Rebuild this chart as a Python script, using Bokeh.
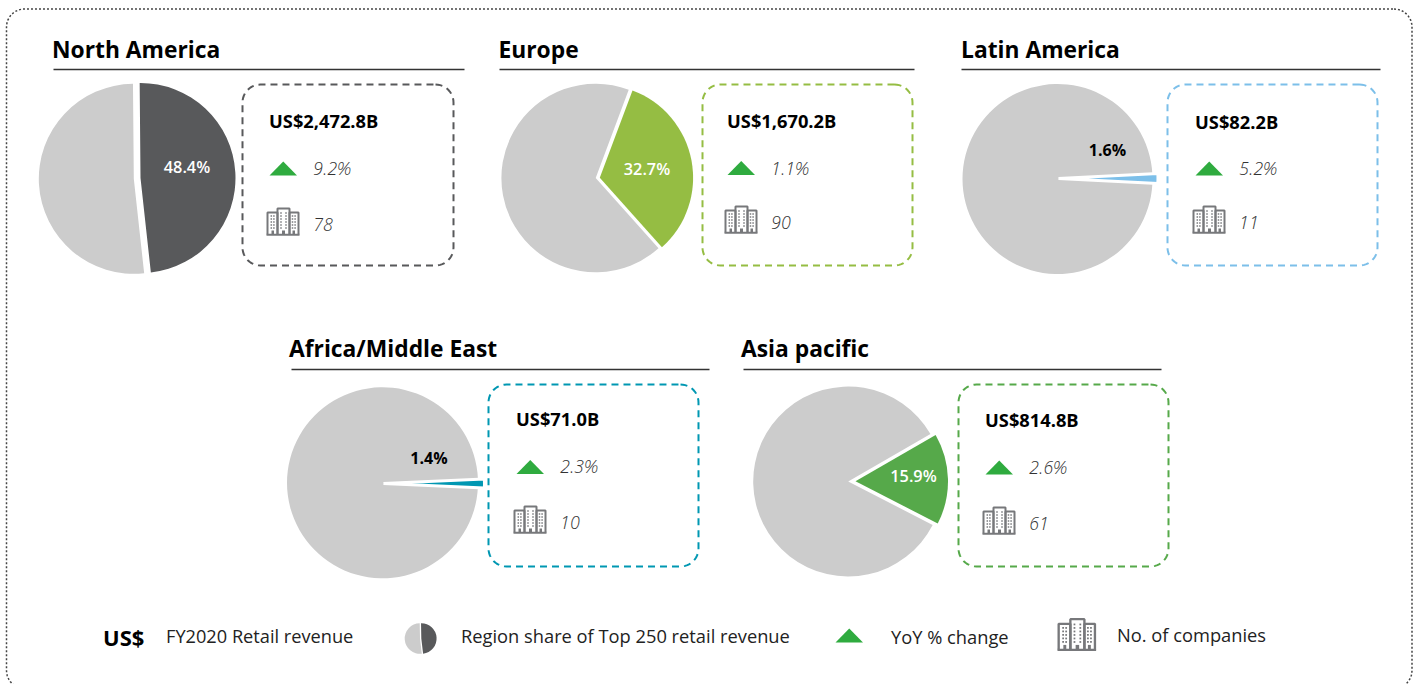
import math
from bokeh.plotting import figure
from bokeh.embed import file_html
from bokeh.resources import INLINE
from bokeh.core.properties import value

regions = ["North America", "Europe", "Latin America", "Africa/Middle East", "Asia pacific"]
revenue = ["US$2,472.8B", "US$1,670.2B", "US$82.2B", "US$71.0B", "US$814.8B"]
yoy = ["9.2%", "1.1%", "5.2%", "2.3%", "2.6%"]
companies = ["78", "90", "11", "10", "61"]
shares = [48.4, 32.7, 1.6, 1.4, 15.9]
colors = ["#58595b", "#95bd43", "#7cbfe9", "#0097b2", "#56a94a"]
legend_texts = ["FY2020 Retail revenue", "Region share of Top 250 retail revenue", "YoY % change", "No. of companies"]

GRAY = "#cccccc"
TRI = "#2fab3f"
ICON = "#77787b"
FONT = value("Open Sans")
LIGHT = value("Open Sans Light")
SEMI = value("Open Sans SemiBold")
W, H = 1417, 684


def Y(py):
    return H - py


p = figure(width=W, height=H, x_range=(0, W), y_range=(0, H), output_backend="svg",
           toolbar_location=None, min_border=0, margin=(0, 0, 0, 0),
           background_fill_color="white", border_fill_color="white")
p.axis.visible = False
p.grid.visible = False
p.outline_line_color = None


def rrect(x0, y0, x1, y1, r):
    xs, ys = [], []
    for cx, cy, a0 in [(x1 - r, y0 + r, -90), (x1 - r, y1 - r, 0), (x0 + r, y1 - r, 90), (x0 + r, y0 + r, 180)]:
        for i in range(13):
            a = math.radians(a0 + i * 7.5)
            xs.append(cx + r * math.cos(a))
            ys.append(Y(cy + r * math.sin(a)))
    xs.append(xs[0])
    ys.append(ys[0])
    return xs, ys


def txt(x, y, s, size, color="#000000", style="normal", align="left", font=FONT):
    p.text([x], [Y(y)], text=[s], text_font=font, text_font_size=f"{size}px", text_color=color,
           text_font_style=style, text_align=align, text_baseline="middle")


def pie(g, s, share, color):
    """g: gray circle (cx, cy, r); s: slice (cx, cy, r, clockwise start from 12 o'clock, white stroke)."""
    sweep = share / 100 * 360
    a0 = math.radians(90 - s[3])
    a1 = math.radians(90 - s[3] - sweep)
    p.wedge([g[0]], [Y(g[1])], radius=g[2], start_angle=a0, end_angle=a1 + 2 * math.pi,
            direction="anticlock", fill_color=GRAY, line_color=None)
    p.wedge([s[0]], [Y(s[1])], radius=s[2], start_angle=a1, end_angle=a0, direction="anticlock",
            fill_color=color, line_color="white" if s[4] else None, line_width=s[4] or 1)


def tri(x, y, w=27.5, h=14):
    p.patch([x, x + w / 2, x + w], [Y(y + h), Y(y), Y(y + h)], fill_color=TRI, line_color=None)


def icon(x, y, s=1.0):
    lw = 2 * s
    for (l, t, r) in [(1, 5, 11), (11, 1, 23), (23, 5, 32)]:
        p.line([x + l * s, x + l * s, x + r * s, x + r * s], [Y(y + 27 * s), Y(y + t * s), Y(y + t * s), Y(y + 27 * s)],
               line_color=ICON, line_width=lw)
    p.line([x, x + 33 * s], [Y(y + 27.3 * s), Y(y + 27.3 * s)], line_color=ICON, line_width=lw)
    wx, wy = [], []
    for cx_ in [4.8, 7.4, 14.5, 19.5, 26, 28.6]:
        for cy_ in [8.5, 11.5, 14.5, 17.5, 20.5]:
            wx.append(x + cx_ * s)
            wy.append(Y(y + cy_ * s))
    for cx_ in [14.5, 19.5]:
        wx.append(x + cx_ * s)
        wy.append(Y(y + 5.5 * s))
    p.rect(wx, wy, width=1.5 * s, height=1.5 * s, fill_color=ICON, line_color=None)
    for a, b in [(5, 7.5), (15.5, 18.5), (26, 28.5)]:
        p.quad(left=[x + a * s], right=[x + b * s], top=[Y(y + 23 * s)], bottom=[Y(y + 27 * s)], fill_color=ICON, line_color=None)


# outer dotted frame; its lower edge falls just below the picture
fx, fy = rrect(6, 8.5, 1411.5, 688, 18)
p.line(fx, fy, line_color="#444444", line_width=1.5, line_dash="2 2")

# (title x, title y, rule x0, rule x1, rule y)
heads = [(51.5, 48.5, 53, 464, 69), (498, 48.5, 499, 914, 69), (960.5, 48.5, 961, 1380, 69), (288.5, 347.7, 291, 709, 369), (740.5, 347.7, 743, 1161, 369)]
grays = [(133.3, 178.3, 95), (595.2, 177.5, 94.3), (1057, 178.5, 95), (382, 482.3, 95.5), (847.7, 481, 95)]
slices = [(140, 177.5, 95, -0.5, 0), (599.3, 177.3, 93.3, 20.5, 0), (1058, 178, 99.5, 87.1, 3),
          (383, 483, 101, 87.5, 3), (855, 480.7, 92.5, 60, 0)]
# box: x0, y0, x1, y1
boxes = [(242, 84, 453, 265), (702, 84, 912, 265), (1167, 84, 1377, 265), (488, 384, 698, 566), (958, 384, 1168, 566)]
# rows: rev x, rev y, tri x, tri y, yoy x, yoy y, icon x, icon y, n y
rows = [(268.5, 120, 269, 161, 312.5, 167.5, 266, 207, 223.5), (726.5, 119.5, 727, 160.5, 770.5, 167.5, 724, 205, 221.5),
        (1194.5, 120.5, 1195, 161, 1238.5, 167.5, 1192, 205, 221.5), (515.5, 418, 516, 459.5, 559.5, 465.5, 513, 505, 521.5),
        (984.5, 419, 985, 460, 1028.5, 466.5, 982, 506, 522.5)]
labels = [(186.5, 166.5, "white"), (646.5, 168.5, "white"), (1107, 149.5, "black"), (428.5, 457.5, "black"), (913, 475.5, "white")]

for i in range(5):
    tx, ty, x0, x1, ry = heads[i]
    txt(tx, ty, regions[i], 22.8, style="bold")
    p.line([x0, x1], [Y(ry), Y(ry)], line_color="#333333", line_width=1.3)
    pie(grays[i], slices[i], shares[i], colors[i])
    bx, by = rrect(boxes[i][0], boxes[i][1], boxes[i][2], boxes[i][3], 18)
    p.line(bx, by, line_color=colors[i], line_width=2, line_dash="7 5")
    rx, rvy, tx_, ty_, yx, yy, ix, iy, ny = rows[i]
    txt(rx, rvy, revenue[i], 18.3, style="bold")
    tri(tx_, ty_)
    txt(yx, yy, yoy[i], 18, color="#333333", style="italic", font=LIGHT)
    icon(ix, iy)
    txt(yx, ny, companies[i], 18, color="#333333", style="italic", font=LIGHT)
    lx, ly, lc = labels[i]
    if lc == "white":
        txt(lx, ly, f"{shares[i]}%", 16.3, color=lc, font=SEMI, align="center")
    else:
        txt(lx, ly, f"{shares[i]}%", 16, color=lc, style="bold", align="center")

# legend
txt(102.5, 636, "US$", 22, style="bold")
txt(165.5, 635, legend_texts[0], 18.2, color="#222222")
pie((419.5, 638, 15.3), (420.8, 638, 15.3, -1, 0), shares[0], colors[0])
txt(460.5, 635, legend_texts[1], 18.3, color="#222222")
tri(835, 628)
txt(890.5, 636, legend_texts[2], 18.3, color="#222222")
icon(1057, 617.5, 1.17)
txt(1116.5, 634, legend_texts[3], 18.3, color="#222222")

open("out.html", "w").write(file_html(p, INLINE))
